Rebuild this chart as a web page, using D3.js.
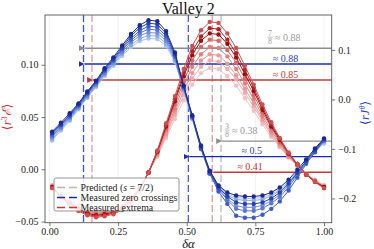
<!DOCTYPE html>
<html>
<head>
<meta charset="utf-8">
<script src="https://cdn.jsdelivr.net/npm/d3@7"></script>
<style>
  body { margin: 0; background: #fff; }
  svg { display: block; font-family: "Liberation Serif", "DejaVu Serif", serif; }
</style>
</head>
<body>
<div id="chart"></div>
<script>
// sweep of delta alpha (shared by all curves)
const dAlpha = [0.010, 0.042, 0.074, 0.106, 0.138, 0.170, 0.201, 0.233, 0.265, 0.297, 0.329, 0.361,
  0.393, 0.425, 0.457, 0.489, 0.520, 0.552, 0.584, 0.616, 0.648, 0.680, 0.712, 0.744,
  0.776, 0.808, 0.839, 0.871, 0.903, 0.935, 0.967, 1.000];

// <r J^theta> (right axis), dark -> light
const blue0 = [-0.065,-0.047,-0.028,-0.008,0.016,0.038,0.063,0.085,0.109,0.132,0.150,0.160,0.158,0.138,0.095,0.028,
  -0.032,-0.093,-0.144,-0.174,-0.188,-0.194,-0.196,-0.196,-0.194,-0.188,-0.178,-0.162,-0.142,-0.121,-0.099,-0.079];
const blue1 = [-0.068,-0.050,-0.031,-0.010,0.014,0.036,0.060,0.082,0.105,0.128,0.145,0.154,0.152,0.133,0.092,0.026,
  -0.033,-0.095,-0.146,-0.178,-0.196,-0.208,-0.211,-0.211,-0.208,-0.200,-0.188,-0.170,-0.148,-0.124,-0.102,-0.080];
const blue2 = [-0.071,-0.052,-0.033,-0.012,0.012,0.034,0.058,0.079,0.102,0.123,0.139,0.148,0.146,0.128,0.089,0.025,
  -0.036,-0.100,-0.150,-0.186,-0.211,-0.235,-0.239,-0.239,-0.233,-0.221,-0.206,-0.184,-0.158,-0.130,-0.107,-0.083];
const blue3 = [-0.074,-0.055,-0.036,-0.014,0.010,0.032,0.055,0.077,0.099,0.119,0.134,0.142,0.140,0.123,0.086,0.023,
  -0.035,-0.098,-0.148,-0.182,-0.203,-0.221,-0.225,-0.225,-0.220,-0.210,-0.197,-0.177,-0.153,-0.127,-0.104,-0.082];
const blue4 = [-0.077,-0.058,-0.038,-0.016,0.007,0.029,0.052,0.074,0.095,0.115,0.129,0.135,0.134,0.118,0.082,0.021,
  -0.034,-0.097,-0.147,-0.180,-0.200,-0.215,-0.218,-0.218,-0.214,-0.205,-0.192,-0.173,-0.150,-0.126,-0.103,-0.081];
const blue5 = [-0.080,-0.060,-0.041,-0.018,0.005,0.027,0.050,0.071,0.092,0.110,0.123,0.129,0.128,0.113,0.079,0.020,
  -0.038,-0.097,-0.146,-0.177,-0.194,-0.202,-0.204,-0.204,-0.202,-0.195,-0.184,-0.167,-0.146,-0.125,-0.104,-0.086];
const blue6 = [-0.083,-0.063,-0.043,-0.020,0.003,0.025,0.047,0.068,0.088,0.106,0.118,0.123,0.122,0.108,0.076,0.018,
  -0.040,-0.098,-0.145,-0.175,-0.191,-0.198,-0.200,-0.200,-0.198,-0.192,-0.182,-0.166,-0.146,-0.126,-0.106,-0.089];

// <r^3 E> (left axis)
const red0 = [-0.018,-0.027,-0.034,-0.040,-0.044,-0.046,-0.045,-0.043,-0.039,-0.031,-0.020,-0.003,
  0.018,0.044,0.070,0.096,0.118,0.133,0.141,0.140,0.130,0.116,0.099,0.081,0.062,0.045,0.030,0.016,0.005,-0.005,-0.012,-0.018];
const red1 = [-0.018,-0.026,-0.033,-0.039,-0.043,-0.045,-0.044,-0.042,-0.038,-0.030,-0.020,-0.003,
  0.017,0.042,0.067,0.092,0.113,0.127,0.135,0.134,0.124,0.111,0.095,0.078,0.059,0.043,0.029,0.015,0.005,-0.005,-0.012,-0.018];
const red2 = [-0.017,-0.026,-0.033,-0.038,-0.042,-0.044,-0.043,-0.041,-0.037,-0.030,-0.019,-0.003,
  0.017,0.041,0.065,0.089,0.109,0.123,0.130,0.129,0.120,0.107,0.091,0.075,0.057,0.041,0.028,0.015,0.005,-0.005,-0.012,-0.017];
const red3 = [-0.017,-0.025,-0.032,-0.038,-0.041,-0.043,-0.042,-0.040,-0.037,-0.029,-0.019,-0.003,
  0.016,0.039,0.062,0.084,0.104,0.117,0.124,0.123,0.114,0.102,0.087,0.071,0.054,0.040,0.026,0.014,0.004,-0.005,-0.011,-0.017];
const red4 = [-0.017,-0.025,-0.031,-0.037,-0.040,-0.042,-0.041,-0.040,-0.036,-0.029,-0.018,-0.003,
  0.015,0.037,0.058,0.080,0.098,0.110,0.117,0.116,0.108,0.096,0.082,0.067,0.051,0.037,0.025,0.013,0.004,-0.005,-0.011,-0.017];
const red5 = [-0.016,-0.024,-0.031,-0.036,-0.040,-0.041,-0.041,-0.039,-0.035,-0.028,-0.018,-0.003,
  0.014,0.034,0.055,0.075,0.092,0.104,0.110,0.109,0.101,0.090,0.077,0.063,0.048,0.035,0.023,0.012,0.004,-0.005,-0.011,-0.016];
const red6 = [-0.016,-0.024,-0.030,-0.035,-0.039,-0.040,-0.040,-0.038,-0.034,-0.027,-0.018,-0.003,
  0.013,0.032,0.052,0.071,0.087,0.098,0.104,0.103,0.096,0.086,0.073,0.060,0.046,0.033,0.022,0.012,0.004,-0.004,-0.011,-0.016];
const red7 = [-0.015,-0.023,-0.029,-0.034,-0.038,-0.040,-0.039,-0.037,-0.034,-0.027,-0.017,-0.003,
  0.012,0.030,0.048,0.066,0.081,0.092,0.097,0.096,0.089,0.080,0.068,0.056,0.043,0.031,0.021,0.011,0.003,-0.004,-0.010,-0.015];

const blueSeries = [blue0, blue1, blue2, blue3, blue4, blue5, blue6];
const redSeries = [red0, red1, red2, red3, red4, red5, red6, red7];

const xTicks = [0, 0.25, 0.5, 0.75, 1.0];
const leftTicks = [-0.05, 0.00, 0.05, 0.10];
const rightTicks = [-0.2, -0.1, 0.0, 0.1];

// vertical markers
const predictedAt = [0.125, 0.625];
const zeroCrossAt = [0.124, 0.506];
const extremaAt = [0.155, 0.593];

// ratio arrows (level = fraction of axes height)
const arrowKind = ["pred", "zero", "ext", "pred", "zero", "ext"];
const arrowFrom = [0.125, 0.124, 0.155, 0.625, 0.506, 0.593];
const arrowLevel = [0.840, 0.764, 0.687, 0.393, 0.318, 0.243];
const arrowFrac = ["7/8", null, null, "3/8", null, null];
const arrowText = ["≈ 0.88", "≈ 0.88", "≈ 0.85", "≈ 0.38", "≈ 0.5", "≈ 0.41"];
const arrowLabelAt = [0.803, 0.860, 0.860, 0.647, 0.737, 0.731];

const legendLabels = ["Predicted (s = 7/2)", "Measured zero crossings", "Measured extrema"];

const W = 374, H = 249;
const margin = { top: 15, right: 42.3, bottom: 26.3, left: 45 };
const iw = W - margin.left - margin.right, ih = H - margin.top - margin.bottom;

const blueColors = ["#1b2a8e", "#2742b2", "#3d5cc9", "#5878d3", "#7391dc", "#8eaae4", "#a9c3ec"];
const redColors = ["#cd4f4f", "#b41f1f", "#9a0c0c", "#d76868", "#e08080", "#e99797", "#efadad", "#f4c1c1"];
const kindColor = {
  pred: { dash: "#b5b5b5", arrow: "#8c8c8c", text: "#9a9a9a" },
  zero: { dash: "#3f55d0", arrow: "#1d2ca6", text: "#2a40c4" },
  ext:  { dash: "#e29191", arrow: "#bf3b3b", text: "#c33535" }
};

const svg = d3.select("#chart").append("svg").attr("width", W).attr("height", H);
const g = svg.append("g").attr("transform", `translate(${margin.left},${margin.top})`);

const x = d3.scaleLinear().domain([-0.016, 1.028]).range([0, iw]);
const yL = d3.scaleLinear().domain([-0.0511, 0.1476]).range([ih, 0]);
const yR = d3.scaleLinear().domain([-0.249, 0.1705]).range([ih, 0]);
const yFrac = d3.scaleLinear().domain([0, 1]).range([ih, 0]);

// faint vertical grid
g.selectAll(".grid").data(xTicks).enter().append("line")
  .attr("x1", d => x(d)).attr("x2", d => x(d)).attr("y1", 0).attr("y2", ih)
  .style("stroke", "#ececec").style("stroke-width", 0.8);

// dashed vertical markers
function vlines(vals, color) {
  g.selectAll(null).data(vals).enter().append("line")
    .attr("x1", d => x(d)).attr("x2", d => x(d)).attr("y1", 0).attr("y2", ih)
    .style("stroke", color).style("stroke-width", 1.2).style("stroke-dasharray", "7,3");
}
vlines(predictedAt, kindColor.pred.dash);
vlines(extremaAt, kindColor.ext.dash);
vlines(zeroCrossAt, kindColor.zero.dash);

// arrows
svg.append("defs").selectAll("marker").data(["pred", "zero", "ext"]).enter().append("marker")
  .attr("id", d => "arr-" + d).attr("viewBox", "0 0 10 10").attr("refX", 0).attr("refY", 5)
  .attr("markerWidth", 4.5).attr("markerHeight", 4.5).attr("orient", "auto")
  .append("path").attr("d", "M10,0 L0,5 L10,10 z").style("fill", d => kindColor[d].arrow);

arrowFrom.forEach((a, i) => {
  const k = arrowKind[i];
  const ly = yFrac(arrowLevel[i]);
  g.append("line")
    .attr("x1", iw).attr("x2", x(a) + 1).attr("y1", ly).attr("y2", ly)
    .style("stroke", kindColor[k].arrow).style("stroke-width", 1.3)
    .attr("marker-end", `url(#arr-${k})`);
  if (arrowFrac[i]) {
    const [num, den] = arrowFrac[i].split("/");
    const fx = x(arrowLabelAt[i]);
    const fy = ly - 11;
    g.append("text").attr("x", fx).attr("y", fy - 1.5).attr("text-anchor", "middle")
      .style("font-size", "8px").style("fill", kindColor[k].text).text(num);
    g.append("line").attr("x1", fx - 2.5).attr("x2", fx + 2.5).attr("y1", fy).attr("y2", fy)
      .style("stroke", kindColor[k].text).style("stroke-width", 0.6);
    g.append("text").attr("x", fx).attr("y", fy + 7.2).attr("text-anchor", "middle")
      .style("font-size", "8px").style("fill", kindColor[k].text).text(den);
    g.append("text").attr("x", fx + 5).attr("y", fy + 3.5)
      .style("font-size", "10px").style("fill", kindColor[k].text).text(arrowText[i]);
  } else {
    g.append("text").attr("x", x(arrowLabelAt[i])).attr("y", ly - 2.5).attr("text-anchor", "middle")
      .style("font-size", "10px").style("fill", kindColor[k].text).text(arrowText[i]);
  }
});

// curves: light first, dark last, red and blue interleaved
function drawCurve(vals, yScale, color) {
  const line = d3.line().x((d, i) => x(dAlpha[i])).y(d => yScale(d));
  const s = g.append("g");
  s.append("path").datum(vals).attr("d", line)
    .style("fill", "none").style("stroke", color).style("stroke-width", 1);
  s.selectAll("circle").data(vals).enter().append("circle")
    .attr("cx", (d, i) => x(dAlpha[i])).attr("cy", d => yScale(d)).attr("r", 2.2)
    .style("fill", color);
}
for (let i = redSeries.length - 1; i >= 0; i--) {
  drawCurve(redSeries[i], yL, redColors[i]);
  if (i < blueSeries.length) drawCurve(blueSeries[i], yR, blueColors[i]);
}

// frame
g.append("rect").attr("width", iw).attr("height", ih)
  .style("fill", "none").style("stroke", "#555").style("stroke-width", 0.9);

// axes
const fmtL = d3.format(".2f"), fmtR = d3.format(".1f");
const ax = g.append("g").attr("transform", `translate(0,${ih})`)
  .call(d3.axisBottom(x).tickValues(xTicks).tickSize(3.5).tickFormat(fmtL));
const axL = g.append("g").call(d3.axisLeft(yL).tickValues(leftTicks).tickSize(3.5).tickFormat(fmtL));
const axR = g.append("g").attr("transform", `translate(${iw},0)`)
  .call(d3.axisRight(yR).tickValues(rightTicks).tickSize(3.5).tickFormat(fmtR));
[ax, axL, axR].forEach(a => {
  a.select(".domain").remove();
  a.selectAll("line").style("stroke", "#555").style("stroke-width", 0.8);
  a.selectAll("text").style("font-family", "'Liberation Serif', serif").style("font-size", "10px").style("fill", "#222");
});
ax.selectAll("text").attr("dy", "0.6em");

// legend
const lg = g.append("g").attr("transform", `translate(${54 - margin.left},${178 - margin.top})`);
lg.append("rect").attr("width", 125).attr("height", 33).attr("rx", 2)
  .style("fill", "#fff").style("fill-opacity", 0.85).style("stroke", "#8a8a8a").style("stroke-width", 0.9);
const legendColors = [kindColor.pred.dash, kindColor.zero.arrow, kindColor.ext.arrow];
legendLabels.forEach((t, i) => {
  const yy = 9.5 + i * 10;
  lg.append("line").attr("x1", 3).attr("x2", 24).attr("y1", yy).attr("y2", yy)
    .style("stroke", legendColors[i]).style("stroke-width", 1.4).style("stroke-dasharray", "8,4");
  const tx = lg.append("text").attr("x", 26.5).attr("y", yy + 3.3)
    .style("font-size", "9.8px").style("fill", "#222");
  if (i === 0) {
    tx.append("tspan").text("Predicted (");
    tx.append("tspan").style("font-style", "italic").text("s");
    tx.append("tspan").text(" = 7/2)");
  } else tx.text(t);
});

// title and axis labels
svg.append("text").attr("x", margin.left + iw / 2).attr("y", 13.5).attr("text-anchor", "middle")
  .style("font-size", "16px").style("fill", "#111").text("Valley 2");

svg.append("text").attr("x", margin.left + iw / 2).attr("y", 247.5).attr("text-anchor", "middle")
  .style("font-size", "12.5px").style("font-style", "italic").style("fill", "#111").text("δα");

const ll = svg.append("text").attr("transform", `translate(11,${margin.top + ih / 2 - 2}) rotate(-90)`)
  .attr("text-anchor", "middle").style("font-size", "12.5px").style("fill", "#c33535");
ll.append("tspan").text("⟨");
ll.append("tspan").style("font-style", "italic").text("r");
ll.append("tspan").attr("baseline-shift", "super").style("font-size", "8px").text("3");
ll.append("tspan").style("font-style", "italic").text("ℰ");
ll.append("tspan").text("⟩");

const rl = svg.append("text").attr("transform", `translate(369,${margin.top + ih / 2 - 6}) rotate(-90)`)
  .attr("text-anchor", "middle").style("font-size", "12.5px").style("fill", "#2a40c4");
rl.append("tspan").text("⟨");
rl.append("tspan").style("font-style", "italic").text("rJ");
rl.append("tspan").attr("baseline-shift", "super").style("font-size", "8px").style("font-style", "italic").text("θ");
rl.append("tspan").text("⟩");
</script>
</body>
</html>
